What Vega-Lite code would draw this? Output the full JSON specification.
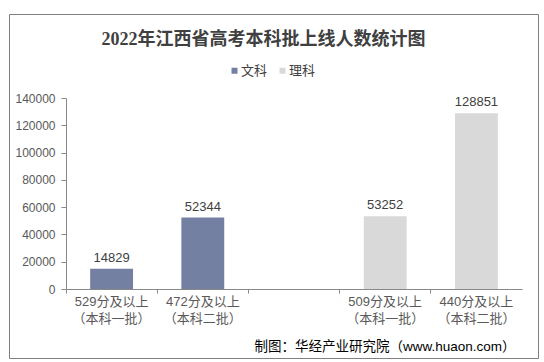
{
  "$schema": "https://vega.github.io/schema/vega-lite/v6.json",
  "autosize": "none",
  "width": 529,
  "height": 344,
  "padding": {"left": 9, "top": 14, "right": 6, "bottom": 4},
  "background": "white",
  "config": {
    "view": {"stroke": "#808080", "strokeWidth": 1},
    "font": "Liberation Sans, Noto Sans CJK SC"
  },
  "title": {
    "text": "2022年江西省高考本科批上线人数统计图",
    "font": "Liberation Serif, Noto Sans CJK SC",
    "fontSize": 18,
    "fontWeight": "bold",
    "color": "#404040",
    "orient": "top",
    "anchor": "middle",
    "frame": "group",
    "baseline": "alphabetic",
    "offset": -49,
    "dx": -10
  },
  "data": {
    "values": [
      {"cat": "529分及以上|（本科一批）", "type": "文科", "value": 14829},
      {"cat": "472分及以上|（本科二批）", "type": "文科", "value": 52344},
      {"cat": "509分及以上|（本科一批）", "type": "理科", "value": 53252},
      {"cat": "440分及以上|（本科二批）", "type": "理科", "value": 128851}
    ]
  },
  "encoding": {
    "x": {
      "field": "cat",
      "type": "nominal",
      "sort": null,
      "scale": {
        "domain": ["529分及以上|（本科一批）", "472分及以上|（本科二批）", " ", "509分及以上|（本科一批）", "440分及以上|（本科二批）"],
        "range": [57, 513],
        "paddingInner": 0,
        "paddingOuter": 0
      },
      "axis": {
        "offset": -69,
        "bandPosition": 0,
        "labelExpr": "split(datum.value, '|')",
        "labelAngle": 0,
        "labelFontSize": 13,
        "labelLineHeight": 17,
        "labelPadding": 2,
        "labelBaseline": "top",
        "labelColor": "#595959",
        "labelOverlap": false,
        "labelBound": false,
        "labelLimit": 0,
        "domainColor": "#888888",
        "tickColor": "#888888",
        "tickSize": 4,
        "title": "制图：华经产业研究院（www.huaon.com）",
        "titleFontSize": 13.5,
        "titleFontWeight": "normal",
        "titleColor": "#000000",
        "titleAlign": "right",
        "titleBaseline": "middle",
        "titleX": 506,
        "titleY": 57
      }
    },
    "y": {
      "field": "value",
      "type": "quantitative",
      "scale": {"domain": [0, 140000], "range": [275, 84], "nice": false},
      "axis": {
        "offset": -57,
        "values": [0, 20000, 40000, 60000, 80000, 100000, 120000, 140000],
        "format": "d",
        "grid": false,
        "domainColor": "#888888",
        "tickColor": "#888888",
        "tickSize": 5,
        "labelPadding": 6,
        "labelFontSize": 12,
        "labelColor": "#595959",
        "title": null
      }
    }
  },
  "layer": [
    {
      "mark": {"type": "bar", "width": {"band": 0.47}},
      "encoding": {
        "color": {
          "field": "type",
          "type": "nominal",
          "scale": {"domain": ["文科", "理科"], "range": ["#7480A1", "#D9D9D9"]},
          "legend": {
            "orient": "none",
            "legendX": 219,
            "legendY": 50,
            "direction": "horizontal",
            "title": null,
            "symbolType": "square",
            "symbolSize": 36,
            "symbolStrokeWidth": 0,
            "labelFontSize": 13,
            "labelColor": "#404040",
            "labelOffset": 0,
            "columnPadding": 8
          }
        }
      }
    },
    {
      "mark": {"type": "text", "dy": -7, "baseline": "alphabetic", "fontSize": 13, "color": "#404040"},
      "encoding": {"text": {"field": "value", "type": "quantitative", "format": "d"}}
    }
  ]
}
